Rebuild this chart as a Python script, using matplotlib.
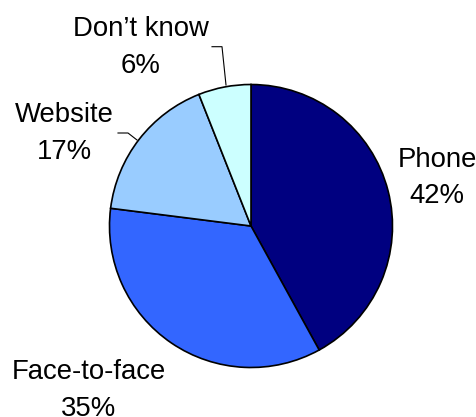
import matplotlib.pyplot as plt

labels = ['Phone', 'Face-to-face', 'Website', "Don\u2019t know"]
shares = [42, 35, 17, 6]
colors = ['#000080', '#3366FF', '#99CCFF', '#CCFFFF']

# label block anchors (pixel coords, y down) of the two text lines
label_pos = {
    'Phone': (437, 160, 196),
    'Face-to-face': (89, 372, 409),
    'Website': (64, 115, 152),
    "Don\u2019t know": (141, 29, 66),
}

W, H = 477, 417
plt.rcParams['font.family'] = ['Liberation Sans', 'DejaVu Sans']

fig = plt.figure(figsize=(W / 100, H / 100), dpi=100)
ax = fig.add_axes([0, 0, 1, 1])

cx, cy, r = 251, H - 226, 141.5
ax.pie(shares, colors=colors, startangle=90, counterclock=False,
       center=(cx, cy), radius=r, frame=True,
       wedgeprops=dict(edgecolor='black', linewidth=1.2))
ax.set_xlim(0, W)
ax.set_ylim(0, H)
ax.set_aspect('equal')
ax.axis('off')

for lab, val in zip(labels, shares):
    x, y1, y2 = label_pos[lab]
    ax.text(x, H - y1, lab, ha='center', va='center', fontsize=19.8, color='black')
    ax.text(x, H - y2, f'{val}%', ha='center', va='center', fontsize=19.8, color='black')

# leader lines
ax.plot([212, 222, 226], [H - 46.7, H - 46.7, H - 85], color='black', lw=0.8)
ax.plot([118, 128, 137], [H - 133, H - 133, H - 140], color='black', lw=0.8)

fig.savefig('out.png', dpi=100)
